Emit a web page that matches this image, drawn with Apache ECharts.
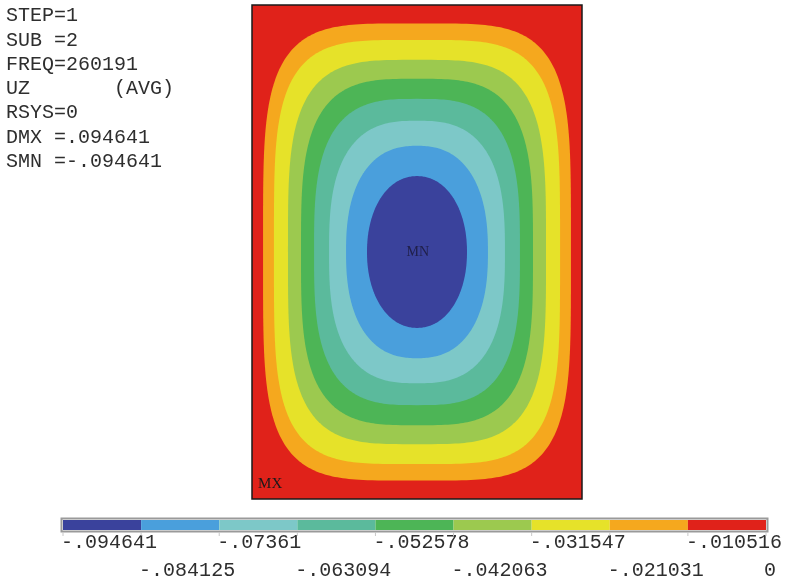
<!DOCTYPE html>
<html><head><meta charset="utf-8">
<script src="https://cdn.jsdelivr.net/npm/echarts@6/dist/echarts.min.js"></script>
<style>html,body{margin:0;padding:0;background:#fff}#c{width:794px;height:580px}</style>
</head><body><div id="c"></div>
<script>
// ---- data ----
const infoLines = ['STEP=1', 'SUB =2', 'FREQ=260191', 'UZ       (AVG)', 'RSYS=0', 'DMX =.094641', 'SMN =-.094641'];
const bandColors = ['#3a429c', '#4a9fdc', '#7dc8c8', '#5bba9c', '#4db556', '#9cc94f', '#e6e229', '#f5a81e', '#e0221a'];
const tickValues = [-0.094641, -0.084125, -0.07361, -0.063094, -0.052578, -0.042063, -0.031547, -0.021031, -0.010516, 0];
const tickLabels = ['-.094641', '-.084125', '-.07361', '-.063094', '-.052578', '-.042063', '-.031547', '-.021031', '-.010516', '0'];
// contour lines of UZ, outer to inner (plate is 2 units wide, 3 units tall)
const contourLevels = [-0.010516, -0.021031, -0.031547, -0.042063, -0.052578, -0.063094, -0.07361, -0.084125];
const contourHalfW = [0.933, 0.867, 0.782, 0.703, 0.624, 0.533, 0.430, 0.303];
const contourHalfH = [1.388, 1.288, 1.167, 1.052, 0.930, 0.797, 0.645, 0.461];
const contourSquareness = [4.3, 4.1, 3.7, 3.4, 3.1, 2.75, 2.4, 2.1];
const plateHalfW = 1, plateHalfH = 1.5;
const minLabel = { text: 'MN', x: 0.005, y: 0 };
const maxLabel = { text: 'MX', x: -0.89, y: -1.41 };

const MONO = '"Liberation Mono", "Courier New", monospace';
const chart = echarts.init(document.getElementById('c'), null, { renderer: 'canvas' });

function colorForInside(level) {
  const j = tickValues.indexOf(level) - 1;
  return bandColors[j];
}
function superellipse(api, a, b, n) {
  const pts = [];
  const N = 360;
  for (let i = 0; i < N; i++) {
    const t = i / N * 2 * Math.PI;
    const c = Math.cos(t), s = Math.sin(t);
    const x = a * Math.sign(c) * Math.pow(Math.abs(c), 2 / n);
    const y = b * Math.sign(s) * Math.pow(Math.abs(s), 2 / n);
    pts.push(api.coord([x, y]));
  }
  return pts;
}

const option = {
  animation: false,
  backgroundColor: '#ffffff',
  grid: [
    { left: 252, top: 5, width: 330, height: 494, show: false },
    { left: 63, top: 520, width: 703, height: 10, show: false }
  ],
  xAxis: [
    { gridIndex: 0, type: 'value', min: -plateHalfW, max: plateHalfW, show: false },
    { gridIndex: 1, type: 'value', min: tickValues[0], max: tickValues[tickValues.length - 1], show: false }
  ],
  yAxis: [
    { gridIndex: 0, type: 'value', min: -plateHalfH, max: plateHalfH, show: false },
    { gridIndex: 1, type: 'value', min: 0, max: 1, show: false }
  ],
  graphic: infoLines.map((t, i) => ({
    type: 'text', x: 6, y: 16 + 24.3 * i,
    style: { text: t, font: '20px ' + MONO, fill: '#2e2e2e', verticalAlign: 'middle', align: 'left' }
  })),
  series: [
    { // plate: outermost band
      type: 'custom', xAxisIndex: 0, yAxisIndex: 0, data: [[0]], z: 1,
      renderItem: (params, api) => {
        const p0 = api.coord([-plateHalfW, plateHalfH]);
        const p1 = api.coord([plateHalfW, -plateHalfH]);
        return { type: 'rect', shape: { x: p0[0], y: p0[1], width: p1[0] - p0[0], height: p1[1] - p0[1] },
          style: { fill: bandColors[bandColors.length - 1] } };
      }
    },
    { // filled contour bands
      type: 'custom', xAxisIndex: 0, yAxisIndex: 0, z: 2,
      data: contourLevels.map((L, k) => [k, L]),
      renderItem: (params, api) => {
        const k = params.dataIndex;
        return { type: 'polygon', shape: { points: superellipse(api, contourHalfW[k], contourHalfH[k], contourSquareness[k]) },
          style: { fill: colorForInside(contourLevels[k]) } };
      }
    },
    { // plate outline + MN / MX markers
      type: 'custom', xAxisIndex: 0, yAxisIndex: 0, z: 3, data: [[0]],
      renderItem: (params, api) => {
        const p0 = api.coord([-plateHalfW, plateHalfH]);
        const p1 = api.coord([plateHalfW, -plateHalfH]);
        const mn = api.coord([minLabel.x, minLabel.y]);
        const mx = api.coord([maxLabel.x, maxLabel.y]);
        return { type: 'group', children: [
          { type: 'rect', shape: { x: p0[0], y: p0[1], width: p1[0] - p0[0], height: p1[1] - p0[1] },
            style: { fill: null, stroke: '#1a1a1a', lineWidth: 1.5 } },
          { type: 'text', x: mn[0], y: mn[1], style: { text: minLabel.text, font: '14px "Liberation Serif", serif', fill: '#20204a', align: 'center', verticalAlign: 'middle' } },
          { type: 'text', x: mx[0], y: mx[1], style: { text: maxLabel.text, font: '15px "Liberation Serif", serif', fill: '#1a1a1a', align: 'center', verticalAlign: 'middle' } }
        ] };
      }
    },
    { // colour bar
      type: 'custom', xAxisIndex: 1, yAxisIndex: 1, z: 2,
      data: bandColors.map((c, j) => [tickValues[j], tickValues[j + 1]]),
      renderItem: (params, api) => {
        const a = api.coord([api.value(0), 1]);
        const b = api.coord([api.value(1), 0]);
        return { type: 'rect', shape: { x: a[0], y: a[1], width: b[0] - a[0], height: b[1] - a[1] },
          style: { fill: bandColors[params.dataIndex] } };
      }
    },
    { // colour bar frame
      type: 'custom', xAxisIndex: 1, yAxisIndex: 1, z: 3, data: [[0]],
      renderItem: (params, api) => {
        const a = api.coord([tickValues[0], 1]);
        const b = api.coord([tickValues[tickValues.length - 1], 0]);
        return { type: 'rect', shape: { x: a[0] - 1.5, y: a[1] - 1.5, width: b[0] - a[0] + 3, height: b[1] - a[1] + 3 },
          style: { fill: null, stroke: '#9a9a9a', lineWidth: 2 } };
      }
    },
    { // tick labels, alternating rows
      type: 'custom', xAxisIndex: 1, yAxisIndex: 1, z: 3,
      data: tickValues.map((v, i) => [v, i]),
      renderItem: (params, api) => {
        const i = params.dataIndex;
        const p = api.coord([api.value(0), 0]);
        return { type: 'group', children: [
          { type: 'line', shape: { x1: p[0], y1: p[1] + 2, x2: p[0], y2: p[1] + 6 }, style: { stroke: '#c8c8c8', lineWidth: 1 } },
          { type: 'text', x: p[0] - 2, y: p[1] + (i % 2 === 0 ? 12.5 : 41),
            style: { text: tickLabels[i], font: '20px ' + MONO, fill: '#2e2e2e', align: 'left', verticalAlign: 'middle' } }
        ] };
      }
    }
  ]
};
chart.setOption(option);
</script>
</body></html>
